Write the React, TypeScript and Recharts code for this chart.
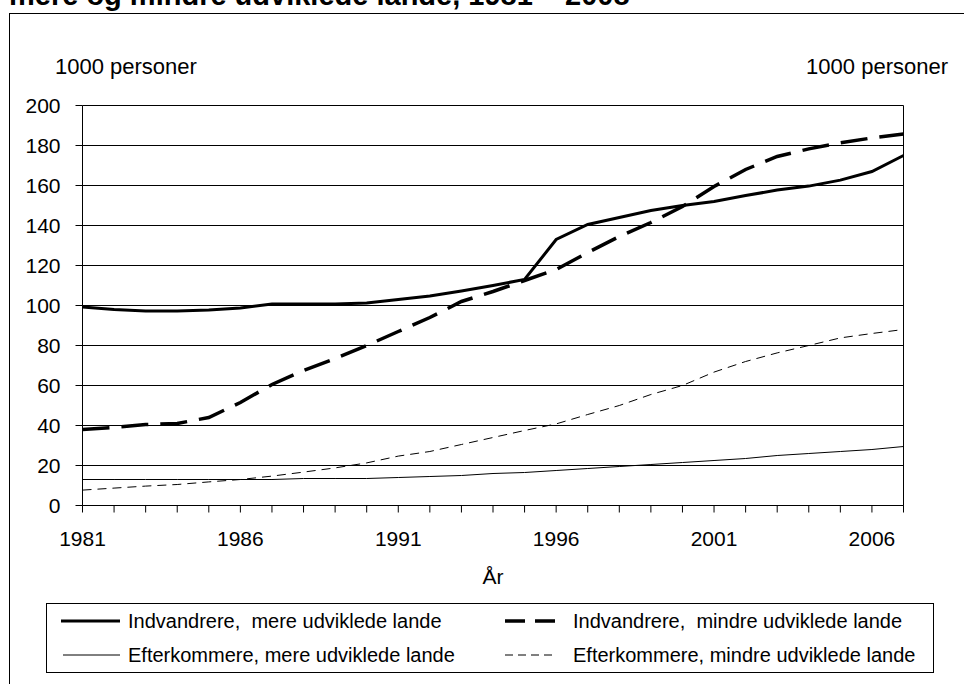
import React from "react";
import { LineChart, Line, XAxis, YAxis, CartesianGrid } from "recharts";

const years = [
  1981, 1982, 1983, 1984, 1985, 1986, 1987, 1988, 1989, 1990, 1991, 1992, 1993, 1994,
  1995, 1996, 1997, 1998, 1999, 2000, 2001, 2002, 2003, 2004, 2005, 2006, 2007,
];

const indvMere = [
  99.3, 98, 97.2, 97.2, 97.7, 98.8, 100.8, 100.8, 100.8, 101.3, 103, 104.7, 107.2, 110,
  113, 133, 140.5, 144, 147.5, 150, 152, 155, 157.7, 159.7, 162.7, 167, 175,
];
const indvMindre = [
  38, 39, 40.5, 41, 44, 51.5, 60.5, 67.5, 73.5, 80, 87, 94, 102, 107, 112.5, 118, 126.5,
  134.5, 141.5, 149.5, 159.5, 168, 174.5, 178.3, 181.3, 183.8, 185.8,
];
const efterMere = [
  13, 13, 13, 13, 13, 13, 13, 13.5, 13.5, 13.5, 14, 14.5, 15, 16, 16.5, 17.5, 18.5, 19.5,
  20.5, 21.5, 22.5, 23.5, 25, 26, 27, 28, 29.5,
];
const efterMindre = [
  7.7, 8.7, 9.7, 10.5, 11.8, 13, 14.7, 16.7, 18.8, 21.3, 24.7, 27, 30.5, 34, 37.5, 40.8,
  45.5, 50, 55.5, 60, 66.7, 72, 76.3, 80, 83.8, 86, 88,
];

const yTicks = [0, 20, 40, 60, 80, 100, 120, 140, 160, 180, 200];
const labelYears = [1981, 1986, 1991, 1996, 2001, 2006];

const seriesNames = [
  "Indvandrere,  mere udviklede lande",
  "Indvandrere,  mindre udviklede lande",
  "Efterkommere, mere udviklede lande",
  "Efterkommere, mindre udviklede lande",
];

const title = "mere og mindre udviklede lande, 1981 – 2008";
const unit = "1000 personer";

const data = years.map((year, i) => ({
  year,
  a: indvMere[i],
  b: indvMindre[i],
  c: efterMere[i],
  d: efterMindre[i],
}));

const styles = [
  { key: "a", width: 3, dash: undefined, legendDash: undefined },
  { key: "b", width: 3.5, dash: "27 12", legendDash: "20 10" },
  { key: "c", width: 1, dash: undefined, legendDash: undefined },
  { key: "d", width: 1, dash: "9 6", legendDash: "8 5" },
];

const FONT = "'Liberation Sans', Arial, sans-serif";

const YearTick = (props: any) => {
  const { x, y, payload } = props;
  if (!labelYears.includes(payload.value)) return null;
  return (
    <text x={x} y={y} dy="0.71em" textAnchor="middle" fontSize={21} fill="#000">
      {payload.value}
    </text>
  );
};

// legend slots: [col x, row y] in the order of seriesNames
const legendSlots = [
  [61, 621],
  [505, 621],
  [63, 655],
  [505, 655],
];

export default function App() {
  return (
    <div style={{ position: "absolute", left: 0, top: 0, width: 964, height: 684, overflow: "hidden", fontFamily: FONT, background: "#fff" }}>
      <LineChart
        width={964}
        height={684}
        data={data}
        margin={{ top: 105.5, right: 10.5, left: 22.5, bottom: 98.5 }}
      >
        <CartesianGrid vertical={false} stroke="#000" yAxisId="l" />
        <XAxis
          dataKey="year"
          type="number"
          domain={[1981, 2007]}
          ticks={years}
          interval={0}
          height={80}
          tick={<YearTick />}
          tickSize={7}
          tickMargin={19}
          axisLine={{ stroke: "#000" }}
          tickLine={{ stroke: "#000" }}
          label={{ value: "År", position: "insideBottom", offset: 2, fontSize: 21, fill: "#000" }}
        />
        <YAxis
          yAxisId="l"
          domain={[0, 200]}
          ticks={yTicks}
          width={60}
          tickSize={7}
          tickMargin={15}
          tick={{ fontSize: 21, fill: "#000" }}
          axisLine={{ stroke: "#000" }}
          tickLine={{ stroke: "#000" }}
        />
        <YAxis
          yAxisId="r"
          orientation="right"
          domain={[0, 200]}
          ticks={yTicks}
          width={50}
          tickSize={7}
          tickMargin={18}
          tick={{ fontSize: 21, fill: "#000", textAnchor: "start" }}
          axisLine={{ stroke: "#000" }}
          tickLine={{ stroke: "#000" }}
        />
        {styles.map((s) => (
          <Line
            key={s.key}
            yAxisId="l"
            dataKey={s.key}
            type="linear"
            stroke="#000"
            strokeWidth={s.width}
            strokeDasharray={s.dash}
            dot={false}
            activeDot={false}
            isAnimationActive={false}
          />
        ))}
      </LineChart>

      <svg
        width={964}
        height={684}
        style={{ position: "absolute", left: 0, top: 0, pointerEvents: "none" }}
      >
        <text x={9} y={4.5} fontSize={29} fontWeight="bold" fill="#000">
          {title}
        </text>
        <rect x={9.5} y={13.5} width={1000} height={700} fill="none" stroke="#000" />
        <text x={55} y={74} fontSize={22} fill="#000">
          {unit}
        </text>
        <text x={948} y={74} fontSize={22} fill="#000" textAnchor="end">
          {unit}
        </text>
        <rect x={46.5} y={603.5} width={887} height={69} fill="none" stroke="#000" />
        {seriesNames.map((name, i) => {
          const [x, y] = legendSlots[i];
          const s = styles[i];
          return (
            <g key={name}>
              <line
                x1={x}
                x2={x + (i % 2 === 0 ? 120 - x : 50)}
                y1={y}
                y2={y}
                stroke="#000"
                strokeWidth={s.width}
                strokeDasharray={s.legendDash}
              />
              <text
                x={i % 2 === 0 ? 128 : 573}
                y={y + 7}
                fontSize={20}
                fill="#000"
                style={{ whiteSpace: "pre" }}
              >
                {name}
              </text>
            </g>
          );
        })}
      </svg>
    </div>
  );
}
